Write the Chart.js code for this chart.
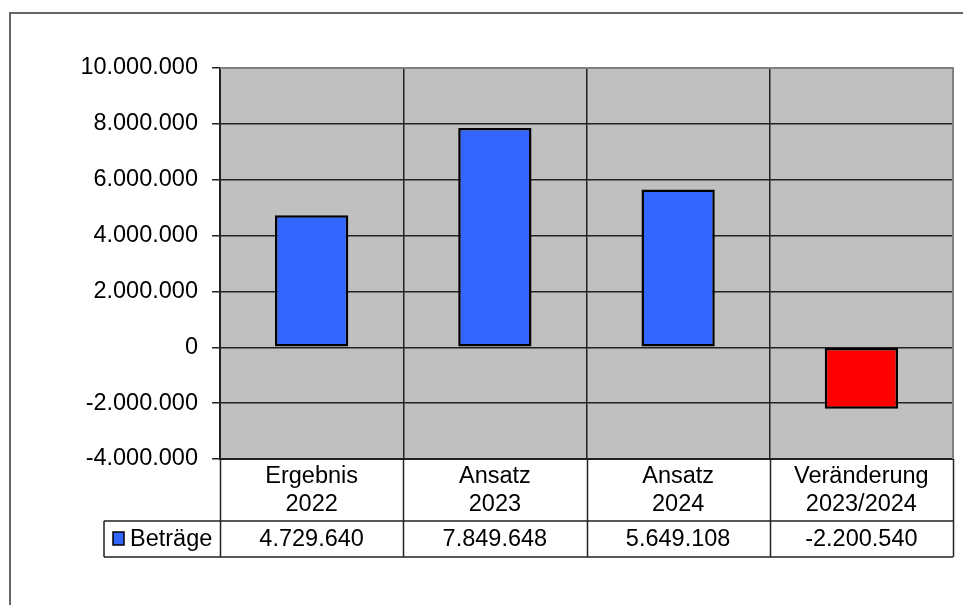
<!DOCTYPE html>
<html>
<head>
<meta charset="utf-8">
<script src="https://cdn.jsdelivr.net/npm/chart.js@4"></script>
<style>
  html, body { margin:0; padding:0; background:#fff; }
  #wrap { position:relative; width:963px; height:605px; overflow:hidden; }
  #frame { position:absolute; left:9px; top:12px; width:1000px; height:700px; border-top:2px solid #666; border-left:2px solid #666; }
  canvas { position:absolute; left:0; top:0; }
</style>
</head>
<body>
<div id="wrap">
  <div id="frame"></div>
  <canvas id="c" width="963" height="605"></canvas>
</div>
<script>
// data
const categories = [['Ergebnis', '2022'], ['Ansatz', '2023'], ['Ansatz', '2024'], ['Veränderung', '2023/2024']];
const seriesName = 'Beträge';
const values = [4729640, 7849648, 5649108, -2200540];
const yTicks = { min: -4000000, max: 10000000, step: 2000000 };

const FONT = '"Liberation Sans", Arial, sans-serif';
const fmt = v => {
  const s = Math.abs(Math.round(v)).toString().replace(/\B(?=(\d{3})+(?!\d))/g, '.');
  return (v < 0 ? '-' : '') + s;
};

const tablePlugin = {
  id: 'table',
  beforeDraw(chart) {
    const a = chart.chartArea, ctx = chart.ctx;
    ctx.save();
    ctx.fillStyle = '#c0c0c0';
    ctx.fillRect(a.left, a.top, a.right - a.left, a.bottom - a.top);
    ctx.restore();
  },
  afterDraw(chart) {
    const a = chart.chartArea, ctx = chart.ctx, x = chart.scales.x;
    const half = (x.getPixelForValue(1) - x.getPixelForValue(0)) / 2;
    const rowTop = a.bottom, rowMid = a.bottom + 62, rowBot = a.bottom + 98;
    const legLeft = 104;
    ctx.save();
    // plot frame top/right
    ctx.strokeStyle = '#808080';
    ctx.lineWidth = 2;
    ctx.beginPath();
    ctx.moveTo(a.left, a.top); ctx.lineTo(a.right, a.top); ctx.lineTo(a.right, a.bottom);
    ctx.stroke();
    // table lines
    ctx.strokeStyle = '#222';
    ctx.lineWidth = 1.5;
    ctx.beginPath();
    ctx.moveTo(legLeft, rowMid); ctx.lineTo(a.right, rowMid);
    ctx.moveTo(legLeft, rowBot); ctx.lineTo(a.right, rowBot);
    ctx.moveTo(legLeft, rowMid); ctx.lineTo(legLeft, rowBot);
    for (let i = 0; i <= categories.length; i++) {
      const px = Math.round(x.getPixelForValue(i) - half) + 0.5;
      ctx.moveTo(px, rowTop); ctx.lineTo(px, rowBot);
    }
    ctx.stroke();
    // text
    ctx.fillStyle = '#000';
    ctx.font = '23.5px ' + FONT;
    ctx.textAlign = 'center';
    ctx.textBaseline = 'alphabetic';
    categories.forEach((c, i) => {
      const cx = x.getPixelForValue(i);
      ctx.fillText(c[0], cx, rowTop + 24);
      ctx.fillText(c[1], cx, rowTop + 52);
      ctx.fillText(fmt(values[i]), cx, rowBot - 11);
    });
    // legend key
    ctx.fillStyle = '#3366ff';
    ctx.fillRect(113, rowMid + 11, 11, 13);
    ctx.strokeStyle = '#000';
    ctx.lineWidth = 1.5;
    ctx.strokeRect(113, rowMid + 11, 11, 13);
    ctx.fillStyle = '#000';
    ctx.textAlign = 'left';
    ctx.fillText(seriesName, 130, rowBot - 11);
    ctx.restore();
  }
};

new Chart(document.getElementById('c'), {
  type: 'bar',
  data: {
    labels: categories,
    datasets: [{
      label: seriesName,
      data: values,
      backgroundColor: values.map(v => v < 0 ? '#ff0000' : '#3366ff'),
      borderColor: '#000',
      borderWidth: 2.5,
      borderSkipped: false,
      categoryPercentage: 1,
      barPercentage: 0.4
    }]
  },
  options: {
    responsive: false,
    animation: false,
    layout: { padding: { left: 0, top: 68, right: 10, bottom: 0 } },
    plugins: { legend: { display: false }, tooltip: { enabled: false } },
    scales: {
      x: {
        ticks: { display: false },
        grid: { color: '#222', lineWidth: 1.5, drawTicks: false, offset: true },
        border: { color: '#222', width: 2 },
        afterFit(s) { s.height = 146; }
      },
      y: {
        min: yTicks.min, max: yTicks.max,
        ticks: {
          stepSize: yTicks.step,
          color: '#000',
          font: { family: FONT, size: 23.5 },
          padding: 14,
          callback: v => fmt(v)
        },
        grid: { color: '#222', lineWidth: 1.5, tickLength: 8 },
        border: { color: '#222', width: 2 },
        afterFit(s) { s.width = 220; }
      }
    }
  },
  plugins: [tablePlugin]
});
</script>
</body>
</html>
